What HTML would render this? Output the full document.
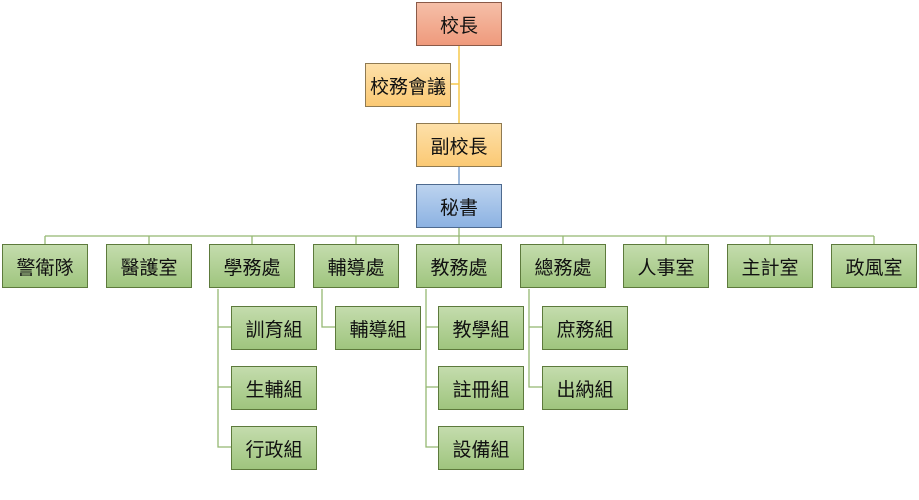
<!DOCTYPE html>
<html><head><meta charset="utf-8"><style>
body{margin:0;width:919px;height:500px;background:#fff;position:relative;overflow:hidden;font-family:"Liberation Sans","Noto Sans CJK TC",sans-serif;}
.b{position:absolute;width:84px;height:42px;border:1px solid #5d7a3c;display:flex;align-items:center;justify-content:center;font-size:19px;color:#111;box-sizing:content-box;}
.g{background:linear-gradient(#c4dcad,#9fc57e);}
.r{background:linear-gradient(#f5bfa8,#ef9a7c);border-color:#8a5a48;}
.o{background:linear-gradient(#fde0a9,#fbc974);border-color:#8f7a52;}
.u{background:linear-gradient(#bcd3ef,#8cb2e2);border-color:#4e6a8f;}
svg{position:absolute;left:0;top:0}
</style></head><body>
<svg width="919" height="500">
<g stroke="#f6c94c" stroke-width="1.5" fill="none">
<line x1="459" y1="45" x2="459" y2="123"/><line x1="450" y1="84" x2="459" y2="84"/>
</g>
<line x1="459" y1="166" x2="459" y2="184" stroke="#7fa3cf" stroke-width="1.5"/>
<g stroke="#95b872" stroke-width="1.3" fill="none">
<line x1="459" y1="227" x2="459" y2="244"/>
<line x1="45" y1="236" x2="874" y2="236"/>
<line x1="45" y1="236" x2="45" y2="244"/><line x1="149" y1="236" x2="149" y2="244"/>
<line x1="252" y1="236" x2="252" y2="244"/><line x1="356" y1="236" x2="356" y2="244"/>
<line x1="563" y1="236" x2="563" y2="244"/><line x1="666" y1="236" x2="666" y2="244"/>
<line x1="770" y1="236" x2="770" y2="244"/><line x1="874" y1="236" x2="874" y2="244"/>
<polyline points="218,289 218,447 231,447"/><line x1="218" y1="327" x2="231" y2="327"/><line x1="218" y1="387" x2="231" y2="387"/>
<polyline points="322,289 322,327 335,327"/>
<polyline points="426,289 426,447 438,447"/><line x1="426" y1="327" x2="438" y2="327"/><line x1="426" y1="387" x2="438" y2="387"/>
<polyline points="529,289 529,387 542,387"/><line x1="529" y1="327" x2="542" y2="327"/>
</g>
</svg>
<div class="b r" style="left:416px;top:2px">校長</div>
<div class="b o" style="left:365px;top:63px">校務會議</div>
<div class="b o" style="left:416px;top:123px">副校長</div>
<div class="b u" style="left:416px;top:184px">秘書</div>
<div class="b g" style="left:2px;top:244px">警衛隊</div>
<div class="b g" style="left:106px;top:244px">醫護室</div>
<div class="b g" style="left:209px;top:244px">學務處</div>
<div class="b g" style="left:313px;top:244px">輔導處</div>
<div class="b g" style="left:416px;top:244px">教務處</div>
<div class="b g" style="left:520px;top:244px">總務處</div>
<div class="b g" style="left:623px;top:244px">人事室</div>
<div class="b g" style="left:727px;top:244px">主計室</div>
<div class="b g" style="left:831px;top:244px">政風室</div>
<div class="b g" style="left:231px;top:306px">訓育組</div>
<div class="b g" style="left:231px;top:366px">生輔組</div>
<div class="b g" style="left:231px;top:426px">行政組</div>
<div class="b g" style="left:335px;top:306px">輔導組</div>
<div class="b g" style="left:438px;top:306px">教學組</div>
<div class="b g" style="left:438px;top:366px">註冊組</div>
<div class="b g" style="left:438px;top:426px">設備組</div>
<div class="b g" style="left:542px;top:306px">庶務組</div>
<div class="b g" style="left:542px;top:366px">出納組</div>
</body></html>
